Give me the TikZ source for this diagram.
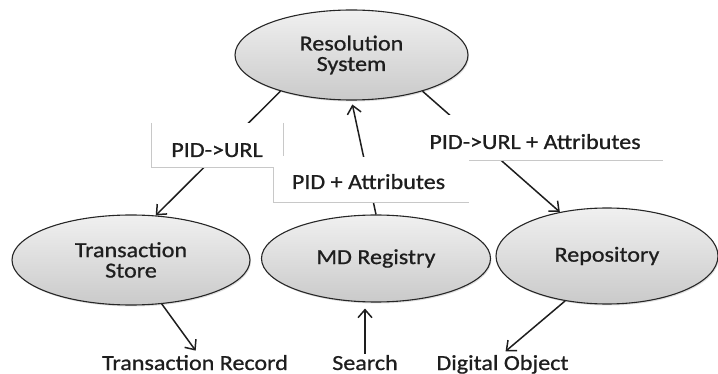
\documentclass[tikz,border=0pt]{standalone}
\usepackage{fontspec}
\setmainfont{Carlito}[FakeStretch=1.12,FakeBold=0.8]
\usetikzlibrary{shapes.geometric,arrows.meta,shadows}
\definecolor{shadetop}{RGB}{240,240,240}
\definecolor{shadebot}{RGB}{202,202,202}
\definecolor{rulegray}{RGB}{200,200,200}
\definecolor{inkcol}{RGB}{30,30,30}
\newcommand\lblfont{\fontsize{21.5}{20.5}\selectfont}
\begin{document}
\begin{tikzpicture}[x=1pt,y=-1pt,
  blob/.style={ellipse, draw=black!85, line width=1.1pt,
    top color=shadetop, bottom color=shadebot, inner sep=0pt,
    align=center, font=\lblfont, text=inkcol,
    drop shadow={shadow xshift=1pt,shadow yshift=-1.5pt,opacity=0.25}},
  txt/.style={inner sep=1pt, font=\lblfont, text=inkcol},
  arr/.style={-{Straight Barb[length=8pt,width=14pt]}, line width=1.5pt, draw=inkcol},
  labelbox/.style={rectangle, fill=white, inner sep=0pt, outer sep=0pt},
  rule/.style={draw=rulegray, line width=0.9pt}]
\useasboundingbox (0,0) rectangle (718,374);

% services
\node[blob, minimum width=233pt, minimum height=90pt] (res) at (351.5,55) {Resolution\\System};
\node[blob, minimum width=238pt, minimum height=90pt] (ts) at (131,260) {Transaction\\Store};
\node[blob, minimum width=229pt, minimum height=87pt] (md) at (376,258.5) {MD Registry};
\node[blob, minimum width=222pt, minimum height=96pt] (repo) at (607,256) {Repository};

% outputs and inputs
\node[txt, anchor=base] (trec) at (195,370) {Transaction Record};
\node[txt, anchor=base] (search) at (365,370) {Search};
\node[txt, anchor=base] (dobj) at (502.5,370) {Digital Object};

% flows
\draw[arr] (res.207.6) -- (ts.61);
\draw[arr, shorten >=4pt] (md.north) -- (res.south);
\draw[arr] (res.-27.6) -- (repo.137.4);
\draw[arr, shorten >=4pt] (ts.-55.8) -- ([xshift=3pt]trec.north);
\draw[arr, shorten >=6pt] (search.north) -- (search.north |- md.south);
\draw[arr, shorten >=4pt] (repo.-133.7) -- (dobj.north);

% label boxes over the flows
\node[labelbox, minimum width=243pt, minimum height=45pt] (b3) at (541.5,137.5) {};
\node[labelbox, minimum width=196pt, minimum height=45pt] (b2) at (371,179.5) {};
\node[labelbox, minimum width=132pt, minimum height=44pt] (b1) at (217,145) {};
\draw[rule] (b1.north west) -- (b1.south west) -- (b1.south west -| b2.west)
  -- (b2.south west) -- (b2.south east);
\draw[rule] (b1.north east) -- ++(0,33);
\draw[rule] (b3.south west -| b2.east) -- (b3.south east);

\node[txt, anchor=base] (l1) at (217,157) {PID->URL};
\node[txt, anchor=base] (l2) at (368.5,189) {PID + Attributes};
\node[txt, anchor=base] (l3) at (535,149) {PID->URL + Attributes};
\end{tikzpicture}
\end{document}
